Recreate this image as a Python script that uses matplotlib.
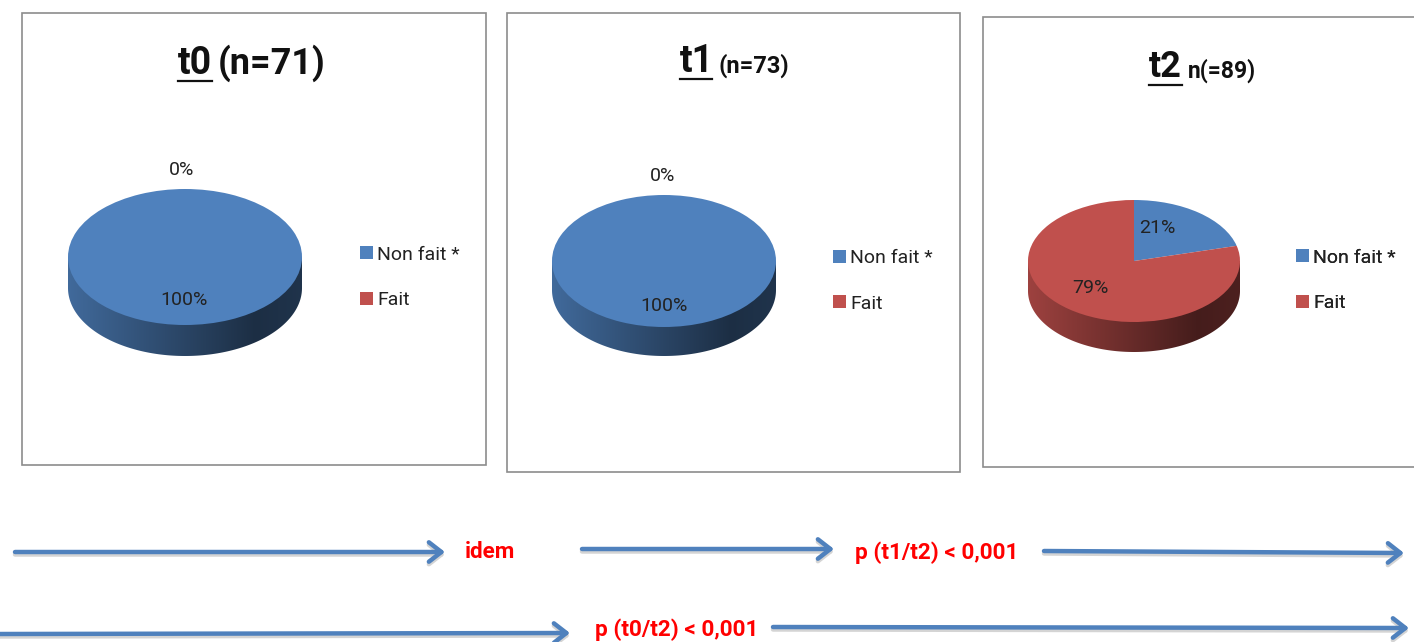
import numpy as np
import matplotlib
matplotlib.use("Agg")
import matplotlib.pyplot as plt
from matplotlib.colors import to_rgb
from matplotlib.patches import Polygon, Rectangle

plt.rcParams['font.family'] = ['Roboto', 'DejaVu Sans']

W, H = 1414, 642
categories = ["Non fait *", "Fait"]
colors = ["#4F81BD", "#C0504D"]
t0_values = [100, 0]
t1_values = [100, 0]
t2_values = [21, 79]
panel_heads = ["t0", "t1", "t2"]
panel_subs = ["(n=71)", "(n=73)", "n(=89)"]
arrow_labels = ["idem", "p (t1/t2) < 0,001", "p (t0/t2) < 0,001"]

fig = plt.figure(figsize=(W / 100, H / 100), dpi=100, facecolor="white")
bg = fig.add_axes([0, 0, 1, 1])
bg.set_xlim(0, W)
bg.set_ylim(H, 0)
bg.axis("off")

panels = [
    dict(values=t0_values, box=(22, 13, 464, 452), c=(185, 257), r=(117, 68), d=31,
         head=(178, 63, 27), sub=(218, 63, 26), ul=(178, 212, 81),
         lab=[(184, 300), (182, 170)], leg=(360, 277.5)),
    dict(values=t1_values, box=(507, 13, 453, 459), c=(664, 261), r=(112, 66), d=29,
         head=(680, 62, 27), sub=(719, 66, 17), ul=(680, 712, 79),
         lab=[(664, 306), (663, 176)], leg=(833, 281)),
    dict(values=t2_values, box=(983, 17, 500, 450), c=(1134, 261), r=(106, 61), d=30,
         head=(1149, 67, 26), sub=(1188, 71, 16.5), ul=(1149, 1182, 85),
         lab=[(1157, 228), (1090, 288)], leg=(1296, 280.5)),
]

for i, p in enumerate(panels):
    x, y, w, h = p["box"]
    bg.add_patch(Rectangle((x, y), w, h, fc="white", ec="#8c8c8c", lw=1.2))

    # title
    bg.text(p["head"][0], p["head"][1], panel_heads[i], fontsize=p["head"][2],
            fontweight="bold", ha="left", va="center", color="#111111")
    bg.text(p["sub"][0], p["sub"][1], panel_subs[i], fontsize=p["sub"][2],
            fontweight="bold", ha="left", va="center", color="#111111")
    bg.plot(p["ul"][:2], [p["ul"][2]] * 2, color="#111111", lw=1.6)

    # pie with a drawn-out rim
    cx, cy = p["c"]
    rx, ry = p["r"]
    d_px = p["d"]
    ax = fig.add_axes([(cx - rx) / W, 1 - (cy + ry + d_px) / H,
                       2 * rx / W, (2 * ry + d_px) / H], zorder=3)
    wedges, _ = ax.pie(p["values"], colors=colors, startangle=90, counterclock=False,
                       radius=1, frame=True, wedgeprops=dict(linewidth=0, zorder=3))
    d = d_px / ry
    ax.set_aspect("auto")
    ax.set_xlim(-1, 1)
    ax.set_ylim(-1 - d, 1)
    ax.axis("off")

    # the rim takes the colour of the slice at the front of the pie
    front = colors[int(np.argmax(p["values"]))]
    gx = np.linspace(-1, 1, 256)
    shade = np.interp(gx, [-1, 0.6, 1], [0.82, 0.36, 0.40])
    grad = np.outer(shade, to_rgb(front)).reshape(1, 256, 3)
    t = np.linspace(np.pi, 2 * np.pi, 200)
    rim_xy = np.r_[np.c_[np.cos(t), np.sin(t) - d], [[1, 0], [-1, 0]]]
    rim = Polygon(rim_xy, closed=True, transform=ax.transData, fc="none", ec="none")
    ax.add_patch(rim)
    im = ax.imshow(grad, extent=(-1, 1, -1 - d, 1), aspect="auto", zorder=1)
    im.set_clip_path(rim)
    ax.set_xlim(-1, 1)
    ax.set_ylim(-1 - d, 1)

    # percentage labels, one per slice, above the pie
    pct_ax = fig.add_axes([0, 0, 1, 1], zorder=4)
    pct_ax.set_xlim(0, W)
    pct_ax.set_ylim(H, 0)
    pct_ax.axis("off")
    pct_ax.patch.set_alpha(0)
    for (lx, ly), v in zip(p["lab"], p["values"]):
        pct_ax.text(lx, ly, f"{v}%", fontsize=14, ha="center", va="center", color="#222222")

    # legend
    leg = bg.legend(wedges, categories, loc="center left",
                    bbox_to_anchor=(p["leg"][0], p["leg"][1]), bbox_transform=bg.transData,
                    frameon=False, fontsize=14, handlelength=0.65, handleheight=0.65,
                    handletextpad=0.22, labelspacing=1.42, borderpad=0, borderaxespad=0,
                    labelcolor="#222222")
    bg.add_artist(leg)

# arrows between the panels
arrows = [((15, 552), (445, 552)), ((582, 549), (834, 549)), ((1044, 551), (1404, 553)),
          ((0, 634), (570, 633)), ((773, 627), (1409, 628))]
for start, end in arrows:
    for off, col, lw in [(2.5, "#d4d4d4", 3.2), (0, "#4F81BD", 3.2)]:
        bg.annotate("", xy=(end[0], end[1] + off), xytext=(start[0], start[1] + off),
                    arrowprops=dict(arrowstyle="->,head_length=0.9,head_width=0.7",
                                    color=col, lw=lw, shrinkA=0, shrinkB=0))

label_pos = [(490, 552), (937, 553), (677, 630)]
for (lx, ly), s in zip(label_pos, arrow_labels):
    bg.text(lx, ly, s, color="#FF0000", fontsize=16.2, fontweight="bold",
            ha="center", va="center")

fig.savefig("out.png", dpi=100, facecolor="white")
